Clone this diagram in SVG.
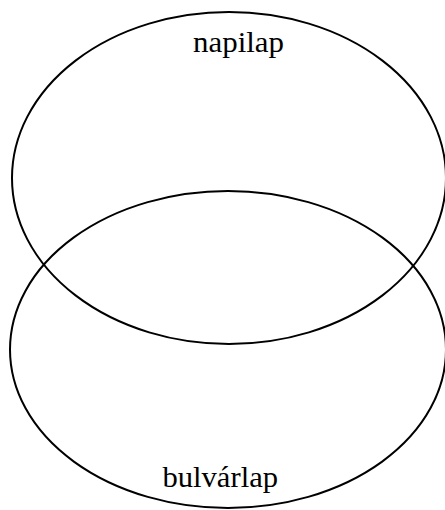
<svg xmlns="http://www.w3.org/2000/svg" width="445" height="510" viewBox="0 0 445 510">
<style>
.set{fill:none;stroke:#000;stroke-width:2}
.lbl{font-family:"Liberation Serif","Times New Roman",serif;font-size:30px;fill:#000}
</style>
<rect width="445" height="510" fill="#fff"/>
<g id="napilap">
<ellipse class="set" cx="229" cy="178" rx="217" ry="166"/>
<text class="lbl" x="193" y="52" textLength="91" lengthAdjust="spacingAndGlyphs">napilap</text>
</g>
<g id="bulvarlap">
<ellipse class="set" cx="228" cy="349.5" rx="218" ry="158.5"/>
<text class="lbl" x="162.5" y="487" textLength="115.5" lengthAdjust="spacingAndGlyphs">bulvárlap</text>
</g>
<g id="connectors"/>
</svg>
